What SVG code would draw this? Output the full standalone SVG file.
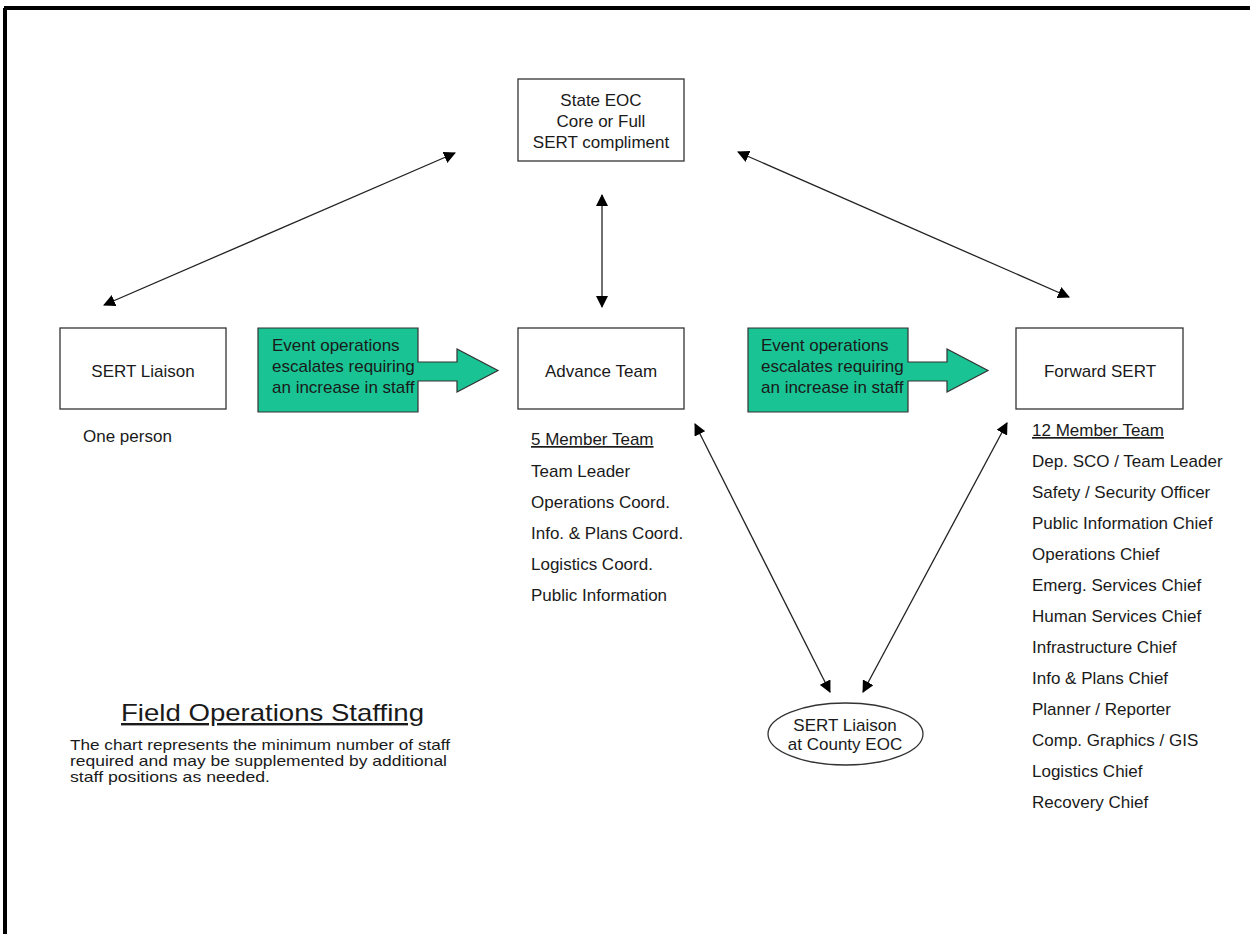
<svg xmlns="http://www.w3.org/2000/svg" width="1250" height="934" viewBox="0 0 1250 934">
<style>
text{font-family:"Liberation Sans",Arial,sans-serif;font-size:17px;fill:#1a1a1a}
.c{text-anchor:middle}
.p{font-size:14.5px}
.box{fill:#fff;stroke:#333;stroke-width:1.3}
.grn{fill:#19c393;stroke:#333;stroke-width:1.2}
.con{stroke:#222;stroke-width:1.3;fill:none;marker-start:url(#ah);marker-end:url(#ah)}
.u{text-decoration:underline}
</style>
<defs>
<marker id="ah" viewBox="0 0 12 12" refX="11" refY="6" markerWidth="12" markerHeight="12" markerUnits="userSpaceOnUse" orient="auto-start-reverse">
<path d="M0,0 L12,6 L0,12 Z" fill="#000"/>
</marker>
</defs>
<rect width="1250" height="934" fill="#fff"/>
<path d="M4,8 H1250 M5,8 V934" stroke="#000" stroke-width="4" fill="none"/>

<g id="state-eoc">
<rect class="box" x="518" y="79" width="166" height="82"/>
<text class="c" x="601" y="106">State EOC</text>
<text class="c" x="601" y="127">Core or Full</text>
<text class="c" x="601" y="148">SERT compliment</text>
</g>

<g id="sert-liaison">
<rect class="box" x="60" y="328" width="166" height="81"/>
<text class="c" x="143" y="377">SERT Liaison</text>
<text x="83" y="442">One person</text>
</g>

<g id="escalate-1">
<path class="grn" d="M258,328 H418 V362 H457 V349 L498,370.5 L457,392 V381 H418 V412 H258 Z"/>
<text x="272" y="351">Event operations</text>
<text x="272" y="372">escalates requiring</text>
<text x="272" y="393">an increase in staff</text>
</g>

<g id="advance-team">
<rect class="box" x="518" y="328" width="166" height="81"/>
<text class="c" x="601" y="377">Advance Team</text>
<text class="u" x="531" y="445">5 Member Team</text>
<text x="531" y="477">Team Leader</text>
<text x="531" y="508">Operations Coord.</text>
<text x="531" y="539">Info. &amp; Plans Coord.</text>
<text x="531" y="570">Logistics Coord.</text>
<text x="531" y="601">Public Information</text>
</g>

<g id="escalate-2">
<path class="grn" d="M748,328 H908 V362 H947 V349 L988,370.5 L947,392 V381 H908 V412 H748 Z"/>
<text x="761" y="351">Event operations</text>
<text x="761" y="372">escalates requiring</text>
<text x="761" y="393">an increase in staff</text>
</g>

<g id="forward-sert">
<rect class="box" x="1016" y="328" width="167" height="81"/>
<text class="c" x="1100" y="377">Forward SERT</text>
<text class="u" x="1032" y="436">12 Member Team</text>
<text x="1032" y="467">Dep. SCO / Team Leader</text>
<text x="1032" y="498">Safety / Security  Officer</text>
<text x="1032" y="529">Public Information Chief</text>
<text x="1032" y="560">Operations Chief</text>
<text x="1032" y="591">Emerg. Services Chief</text>
<text x="1032" y="622">Human Services Chief</text>
<text x="1032" y="653">Infrastructure Chief</text>
<text x="1032" y="684">Info &amp; Plans Chief</text>
<text x="1032" y="715">Planner / Reporter</text>
<text x="1032" y="746">Comp. Graphics / GIS</text>
<text x="1032" y="777">Logistics Chief</text>
<text x="1032" y="808">Recovery Chief</text>
</g>

<g id="county-liaison">
<ellipse class="box" cx="845.5" cy="734" rx="77.5" ry="31"/>
<text class="c" x="845" y="731">SERT Liaison</text>
<text class="c" x="845" y="750">at County EOC</text>
</g>

<g id="legend">
<text class="u" x="121" y="721" style="font-size:24px" textLength="303" lengthAdjust="spacingAndGlyphs">Field Operations Staffing</text>
<text class="p" x="70" y="750" textLength="380" lengthAdjust="spacingAndGlyphs">The chart represents the minimum number of staff</text>
<text class="p" x="70" y="766" textLength="377" lengthAdjust="spacingAndGlyphs">required and  may be supplemented by additional</text>
<text class="p" x="70" y="782" textLength="200" lengthAdjust="spacingAndGlyphs">staff positions as needed.</text>
</g>

<g id="connectors">
<line class="con" x1="455" y1="153" x2="104" y2="305"/>
<line class="con" x1="602" y1="195" x2="602" y2="307"/>
<line class="con" x1="738" y1="152" x2="1069" y2="297"/>
<line class="con" x1="695" y1="424" x2="830" y2="692"/>
<line class="con" x1="1007" y1="423" x2="863" y2="692"/>
</g>
</svg>
